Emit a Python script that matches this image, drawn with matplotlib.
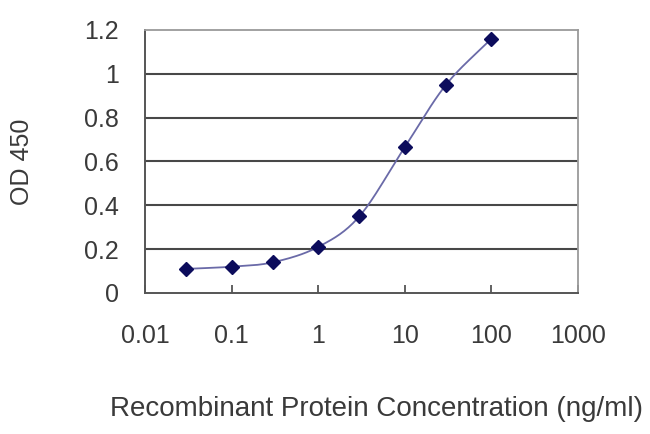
import numpy as np
import matplotlib
matplotlib.use("Agg")
import matplotlib.pyplot as plt

conc = [0.03, 0.1, 0.3, 1, 3, 10, 30, 100]
od450 = [0.11, 0.12, 0.14, 0.21, 0.35, 0.665, 0.95, 1.16]
xticks = [0.01, 0.1, 1, 10, 100, 1000]
xtick_labels = ["0.01", "0.1", "1", "10", "100", "1000"]
yticks = [0, 0.2, 0.4, 0.6, 0.8, 1.0, 1.2]
ytick_labels = ["0", "0.2", "0.4", "0.6", "0.8", "1", "1.2"]

plt.rcParams['font.family'] = ['Liberation Sans', 'DejaVu Sans']

fig = plt.figure(figsize=(6.5, 4.34), dpi=100)
ax = fig.add_axes([0.223, 0.3249, 0.666, 0.606])

# Smooth (Catmull-Rom) rendering of the line through the data points in log-x space
lx = np.log10(conc)
y = np.array(od450)
P = np.column_stack([lx, y])
Pext = np.vstack([2 * P[0] - P[1], P, 2 * P[-1] - P[-2]])
curve = []
for i in range(1, len(Pext) - 2):
    p0, p1, p2, p3 = Pext[i - 1], Pext[i], Pext[i + 1], Pext[i + 2]
    t = np.linspace(0, 1, 20)[:, None]
    seg = 0.5 * ((2 * p1) + (-p0 + p2) * t + (2 * p0 - 5 * p1 + 4 * p2 - p3) * t ** 2
                 + (-p0 + 3 * p1 - 3 * p2 + p3) * t ** 3)
    curve.append(seg)
curve = np.vstack(curve)
ax.plot(10 ** curve[:, 0], curve[:, 1], color="#6a6aa8", lw=1.3, zorder=3)
ax.plot(conc, od450, linestyle="none", marker="D", markersize=7, color="#0c0c5c", zorder=4)

ax.set_xscale("log")
ax.set_xlim(0.01, 1000)
ax.set_ylim(0, 1.2)
ax.set_xticks(xticks)
ax.set_xticklabels(xtick_labels)
ax.minorticks_off()
ax.set_yticks(yticks)
ax.set_yticklabels(ytick_labels)

for v in yticks[1:-1]:
    ax.axhline(v, color="#484848", lw=1.5, zorder=1)

for side in ["top", "right"]:
    ax.spines[side].set_color("#9a9a9a")
    ax.spines[side].set_linewidth(1.3)
for side in ["left", "bottom"]:
    ax.spines[side].set_color("#555555")
    ax.spines[side].set_linewidth(1.4)

ax.tick_params(axis="x", direction="in", length=6, width=1.3, color="#555555",
               labelsize=18, labelcolor="#3a3a3a", pad=22)
ax.tick_params(axis="y", length=0, labelsize=18, labelcolor="#3a3a3a", pad=19)

ax.set_xlabel("Recombinant Protein Concentration (ng/ml)", fontsize=20, color="#3a3a3a")
ax.xaxis.set_label_coords(0.535, -0.441)
ax.xaxis.label.set_va("center")
ax.set_ylabel("OD 450", fontsize=18, color="#3a3a3a")
ax.yaxis.set_label_coords(-0.283, 0.5)
ax.yaxis.label.set_va("center")

fig.savefig("out.png", dpi=100)
